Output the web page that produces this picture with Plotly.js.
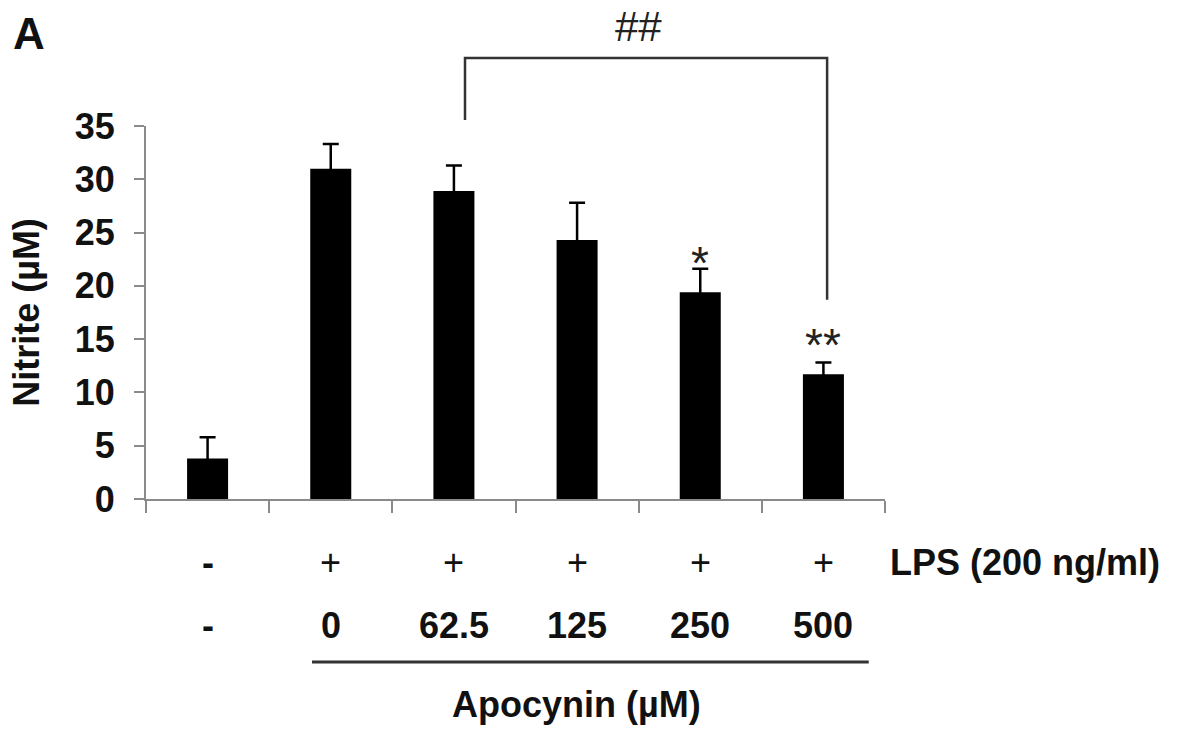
<!DOCTYPE html>
<html>
<head>
<meta charset="utf-8">
<script src="https://cdn.plot.ly/plotly-3.0.1.min.js"></script>
<style>html,body{margin:0;padding:0;background:#fff;}#chart{width:1181px;height:733px;}</style>
</head>
<body>
<div id="chart"></div>
<script>
// ---- data ----
const groups = ['Control', 'LPS', 'LPS + Apo 62.5', 'LPS + Apo 125', 'LPS + Apo 250', 'LPS + Apo 500'];
const lpsLabels = ['-', '+', '+', '+', '+', '+'];
const apoLabels = ['-', '0', '62.5', '125', '250', '500'];
const nitrite = [3.8, 31.0, 28.9, 24.3, 19.4, 11.7];
const sem = [2.0, 2.3, 2.4, 3.5, 2.2, 1.1];
const stars = ['', '', '', '', '*', '**'];
const yTicks = [0, 5, 10, 15, 20, 25, 30, 35];

// ---- styles ----
const FONT = 'Liberation Sans, Arial, sans-serif';
const TXT = '#111111';
const AX = '#8a8a8a';

const bars = {
  type: 'bar',
  x: groups,
  y: nitrite,
  marker: {color: '#000000', line: {width: 0}},
  error_y: {type: 'data', array: sem, symmetric: true,
            color: '#000000', thickness: 2.5, width: 8},
  hoverinfo: 'x+y'
};

const ann = [];
groups.forEach((g, i) => {
  ann.push({x: g, xref: 'x', y: -0.169, yref: 'paper', text: lpsLabels[i], showarrow: false,
            xanchor: 'center', yanchor: 'middle',
            font: {family: FONT, size: 36, color: TXT, weight: lpsLabels[i] === '-' ? 'bold' : 'normal'}});
  ann.push({x: g, xref: 'x', y: -0.338, yref: 'paper', text: apoLabels[i], showarrow: false,
            xanchor: 'center', yanchor: 'middle', font: {family: FONT, size: 36, color: TXT, weight: 'bold'}});
  if (stars[i]) {
    ann.push({x: g, xref: 'x', y: nitrite[i] + sem[i], yref: 'y', text: stars[i], showarrow: false,
              xanchor: 'center', yanchor: 'bottom', yshift: stars[i].length > 1 ? -10 : -22,
              font: {family: FONT, size: 46, color: '#222'}});
  }
});
ann.push({x: 1.004, xref: 'paper', y: -0.169, yref: 'paper', text: 'LPS (200 ng/ml)', showarrow: false,
          xanchor: 'left', yanchor: 'middle', font: {family: FONT, size: 36, color: TXT, weight: 'bold'}});
ann.push({x: 0.582, xref: 'paper', y: -0.552, yref: 'paper', text: 'Apocynin (µM)', showarrow: false,
          xanchor: 'center', yanchor: 'middle', font: {family: FONT, size: 36, color: TXT, weight: 'bold'}});
ann.push({x: 0.667, xref: 'paper', y: 1.268, yref: 'paper', text: '##', showarrow: false,
          xanchor: 'center', yanchor: 'middle', font: {family: FONT, size: 42, color: '#222'}});
ann.push({x: -0.158, xref: 'paper', y: 1.247, yref: 'paper', text: 'A', showarrow: false,
          xanchor: 'center', yanchor: 'middle', font: {family: FONT, size: 44, color: TXT, weight: 'bold'}});

const shapes = [
  {type: 'path', xref: 'x', yref: 'paper',
   path: 'M 2.09,1.016 L 2.09,1.182 L 5.03,1.182 L 5.03,0.534',
   line: {color: '#333', width: 2.5}},
  {type: 'line', xref: 'paper', yref: 'paper', x0: 0.2246, x1: 0.978, y0: -0.437, y1: -0.437,
   line: {color: '#333', width: 3}}
];

const layout = {
  width: 1181, height: 733,
  margin: {l: 146, r: 296, t: 126, b: 234},
  paper_bgcolor: '#fff', plot_bgcolor: '#fff',
  showlegend: false,
  bargap: 0.667,
  xaxis: {
    type: 'category', showline: true, linecolor: AX, linewidth: 2,
    ticks: 'outside', tickson: 'boundaries', ticklen: 12, tickwidth: 2, tickcolor: AX,
    showticklabels: false, showgrid: false, zeroline: false, fixedrange: true
  },
  yaxis: {
    range: [0, 35], tickvals: yTicks, showline: true, linecolor: AX, linewidth: 2,
    ticks: 'outside', ticklen: 10, tickwidth: 2, tickcolor: AX,
    tickfont: {family: FONT, size: 36, color: TXT, weight: 'bold'},
    ticklabelstandoff: 12,
    showgrid: false, zeroline: false, fixedrange: true,
    title: {text: 'Nitrite (µM)', font: {family: FONT, size: 36, color: TXT, weight: 'bold'}, standoff: 24}
  },
  annotations: ann,
  shapes: shapes
};

Plotly.newPlot('chart', [bars], layout, {displayModeBar: false, staticPlot: true});
</script>
</body>
</html>
